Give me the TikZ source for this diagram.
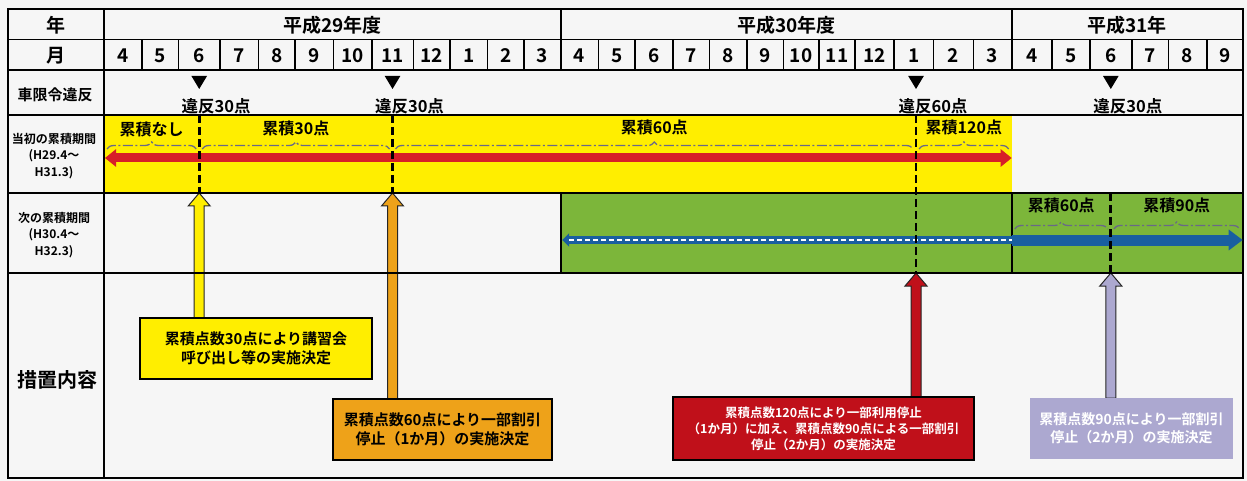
\documentclass[tikz,border=0pt]{standalone}
\usepackage{fontspec}
\setmainfont{Noto Sans CJK JP}[BoldFont={Noto Sans CJK JP Bold}]
\usetikzlibrary{arrows.meta,decorations.pathreplacing,calc}
\definecolor{bgc}{RGB}{246,246,246}
\definecolor{yel}{RGB}{255,238,0}
\definecolor{grn}{RGB}{124,182,58}
\definecolor{redarr}{RGB}{215,30,40}
\definecolor{blu}{RGB}{25,95,160}
\definecolor{org}{RGB}{238,162,25}
\definecolor{dred}{RGB}{192,16,26}
\definecolor{lav}{RGB}{172,168,208}
\definecolor{bracecol}{RGB}{105,105,135}
\pgfdeclarelayer{bottom}
\pgfdeclarelayer{arrlayer}
\pgfsetlayers{bottom,arrlayer,main}
\newcommand\blockup[3]{%
  \filldraw[fill=#3, draw=black!85, line width=1pt]
    ($(#1)+(-5,0)$) -- ($(#2)+(-5,13)$) -- ($(#2)+(-11,13)$) -- (#2) --
    ($(#2)+(11,13)$) -- ($(#2)+(5,13)$) -- ($(#1)+(5,0)$) -- cycle;}
\begin{document}
\begin{tikzpicture}[x=1pt,y=-1pt,
  every node/.style={inner sep=0pt, outer sep=0pt},
  fsz/.style 2 args={font=\bfseries\fontsize{#1}{#2}\selectfont},
  tline/.style={line width=1.6pt, draw=black},
  vdash/.style={line width=2.8pt, dash pattern=on 8pt off 4pt},
  brc/.style={draw=bracecol, line width=1.3pt, dash pattern=on 10pt off 2.5pt on 2pt off 2.5pt, decorate, decoration={brace, amplitude=7pt}},
  actbox/.style={draw=black, line width=2.2pt, align=center, inner sep=0pt},
  ]
\def\yA{9}\def\yB{39.5}\def\yC{70}\def\yD{115}\def\yE{193}\def\yF{273}\def\yG{478}
\def\xL{8}\def\xC{104}\def\xM{560.7}\def\xN{1011.7}\def\xR{1242.7}
\useasboundingbox (0,0) rectangle (1247,481);
\begin{pgfonlayer}{bottom}
  \fill[bgc] (0,0) rectangle (1247,481);
  \fill[yel] (\xC,\yD) rectangle (\xN,\yE);
  \fill[grn] (\xM,\yE) rectangle (\xR,\yF);
\end{pgfonlayer}
% row coordinates
\coordinate (rD) at (0,\yD);
\coordinate (rE) at (0,\yE);
\coordinate (rF) at (0,\yF);
% grid
\draw[tline] (\xL,\yA) rectangle (\xR,\yG);
\foreach \y in {\yB,\yC,\yD,\yE,\yF} \draw[tline] (\xL,\y) -- (\xR,\y);
\draw[tline] (\xC,\yA) -- (\xC,\yG);
\draw[tline] (\xM,\yA) -- (\xM,\yB);
\draw[tline] (\xN,\yA) -- (\xN,\yB);
\draw[tline] (\xM,\yE) -- (\xM,\yF);
\draw[tline] (\xN,\yE) -- (\xN,\yF);
% months
\foreach \xa/\xb/\m [count=\i] in {104/141.7/4,141.7/178.3/5,178.3/220/6,220/258.3/7,258.3/295/8,295/333.3/9,333.3/371.7/10,371.7/413.3/11,413.3/450/12,450/487.3/1,487.3/524/2,524/560.7/3,560.7/598.3/4,598.3/635/5,635/672.7/6,672.7/709.3/7,709.3/746.7/8,746.7/783.3/9,783.3/819/10,819/855/11,855/894/12,894/933.3/1,933.3/973.3/2,973.3/1011.7/3,1011.7/1051.7/4,1051.7/1090/5,1090/1131.7/6,1131.7/1168.3/7,1168.3/1206.7/8,1206.7/1242.7/9}{
  \draw[tline] (\xb,\yB) -- (\xb,\yC);
  \node[fsz={19}{19}] (m\i) at ({(\xa+\xb)/2},55.5) {\m};
}
% years
\node[fsz={19}{19}] (y29) at ({(\xC+\xM)/2},25) {平成29年度};
\node[fsz={19}{19}] (y30) at ({(\xM+\xN)/2},25) {平成30年度};
\node[fsz={19}{19}] (y31) at ({(\xN+\xR)/2},25) {平成31年};
% left labels
\node[fsz={19}{19}] (hy) at (56,25) {年};
\node[fsz={19}{19}] (hm) at (56,55.5) {月};
\node[fsz={15}{15}] (hv) at (55,95) {車限令違反};
\node[fsz={12}{16.5}, align=center] (h1) at (54,156) {当初の累積期間\\(H29.4～\\H31.3)};
\node[fsz={12}{16.5}, align=center] (h2) at (54,235) {次の累積期間\\(H30.4～\\H32.3)};
\node[fsz={20}{20}] (h3) at (57,380) {措置内容};
% violations
\foreach \n/\x/\t in {1/199.2/違反30点,2/392.5/違反30点,3/916/違反60点,4/1110.8/違反30点}{
  \coordinate (v\n) at (\x,82.5);
  \fill (v\n) ++(-7.8,-6.5) -- ++(15.6,0) -- ++(-7.8,13) -- cycle;
  \node[fsz={16.5}{16.5}] (vl\n) at (\x+17,106) {\t};
}
% red arrow (initial period)
\coordinate (ra) at (\xC+1,158);
\coordinate (rb) at (\xN,158);
\draw[redarr, line width=9pt, {Triangle[width=17pt,length=11pt]}-{Triangle[width=17pt,length=11pt]}] (ra) -- (rb);
% braces initial period
\coordinate (c0) at (\xC,149);
\coordinate (c1) at (v1 |- c0);
\coordinate (c2) at (v2 |- c0);
\coordinate (c3) at (v3 |- c0);
\coordinate (c4) at (\xN,149);
\draw[brc] ($(c0)+(3,0)$) -- ($(c1)+(-3,0)$);
\draw[brc] ($(c1)+(3,0)$) -- ($(c2)+(-3,0)$);
\draw[brc] ($(c2)+(3,0)$) -- ($(c3)+(-3,0)$);
\draw[brc] ($(c3)+(3,0)$) -- ($(c4)+(-3,0)$);
\node[fsz={16}{16}] (a1) at ($(c0)!0.5!(c1)+(0,-20)$) {累積なし};
\node[fsz={16}{16}] (a2) at ($(c1)!0.5!(c2)+(0,-21)$) {累積30点};
\node[fsz={16}{16}] (a3) at ($(c2)!0.5!(c3)+(0,-22)$) {累積60点};
\node[fsz={16}{16}] (a4) at ($(c3)!0.5!(c4)+(0,-22)$) {累積120点};
% next period
\coordinate (bl) at (\xM+1.5,240);
\coordinate (bm) at (\xN,240);
\coordinate (br) at (\xR,240);
\draw[blu, line width=8pt, {Triangle[width=13pt,length=7pt]}-] (bl) -- (bm);
\draw[white, line width=2pt, dash pattern=on 5pt off 3pt] ($(bl)+(7,0)$) -- (bm);
\draw[blu, line width=11pt, -{Triangle[width=20pt,length=14pt]}] (bm) -- (br);
\coordinate (d0) at (\xN,229);
\coordinate (d1) at (v4 |- d0);
\coordinate (d2) at (\xR,229);
\draw[brc] ($(d0)+(3,0)$) -- ($(d1)+(-3,0)$);
\draw[brc] ($(d1)+(3,0)$) -- ($(d2)+(-3,0)$);
\node[fsz={16}{16}] (g1) at ($(d0)!0.5!(d1)+(0,-24)$) {累積60点};
\node[fsz={16}{16}] (g2) at ($(d1)!0.5!(d2)+(0,-24)$) {累積90点};
% dashed verticals
\draw[vdash] (v1 |- rD) -- (v1 |- rE);
\draw[vdash] (v2 |- rD) -- (v2 |- rE);
\draw[vdash] (v3 |- rD) -- (v3 |- rF);
\draw[vdash] (v4 |- rE) -- (v4 |- rF);
% action boxes
\node[actbox, fill=yel, line width=2.6pt, minimum width=232pt, minimum height=61pt, fsz={15}{19}] (b1) at (256,348.5) {累積点数30点により講習会\\呼び出し等の実施決定};
\node[actbox, fill=org, minimum width=219pt, minimum height=61pt, fsz={15}{19}] (b2) at (442.5,429.5) {累積点数60点により一部割引\\停止（1か月）の実施決定};
\node[actbox, fill=dred, text=white, minimum width=301pt, minimum height=63pt, fsz={12.5}{16}] (b3) at (823.5,428.5) {累積点数120点により一部利用停止\\（1か月）に加え、累積点数90点による一部割引\\停止（2か月）の実施決定};
\node[fill=lav, text=white, align=center, minimum width=203pt, minimum height=61pt, fsz={14}{18}] (b4) at (1131.5,428.5) {累積点数90点により一部割引\\停止（2か月）の実施決定};
\begin{pgfonlayer}{arrlayer}
  \blockup{v1 |- b1.north}{v1 |- rE}{yel}
  \blockup{v2 |- b2.north}{v2 |- rE}{org}
  \blockup{v3 |- b3.north}{v3 |- rF}{dred}
  \blockup{v4 |- b4.north}{v4 |- rF}{lav}
\end{pgfonlayer}
\end{tikzpicture}
\end{document}
